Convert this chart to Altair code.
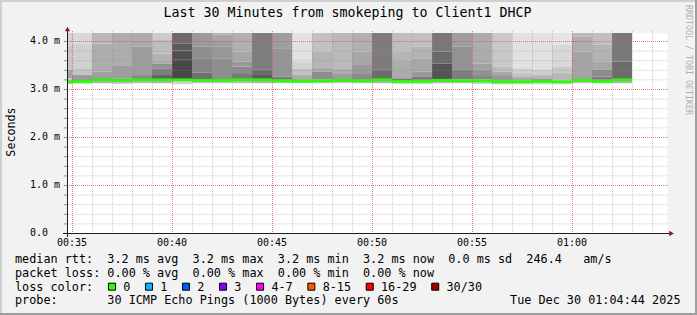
import altair as alt
import pandas as pd

MONO = "DejaVu Sans Mono"
DAY = "2025-12-30"
NB = "\u00a0"

# ---------------- data ----------------
title_text = "Last 30 Minutes from smokeping to Client1 DHCP"
y_title = "Seconds"
x_label_times = ["00:35", "00:40", "00:45", "00:50", "00:55", "01:00"]
y_ticks = [0, 1, 2, 3, 4]  # milliseconds

# start minute of each 60 s smoke column
minutes = ["00:34", "00:35", "00:36", "00:37", "00:38", "00:39", "00:40", "00:41",
           "00:42", "00:43", "00:44", "00:45", "00:46", "00:47", "00:48", "00:49",
           "00:50", "00:51", "00:52", "00:53", "00:54", "00:55", "00:56", "00:57",
           "00:58", "00:59", "01:00", "01:01", "01:02"]

# smoke band edges (ms, top -> bottom) and grey level of each band
smoke_edges = [
    [4.3, 3.90, 3.40, 3.22, 3.10],
    [4.3, 3.95, 3.43, 3.29, 3.15, 3.11],
    [4.3, 3.95, 3.36, 3.22, 3.19, 3.12],
    [4.3, 3.48, 3.22, 3.15, 3.11],
    [4.3, 3.88, 3.29, 3.20, 3.12],
    [4.3, 4.02, 3.74, 3.60, 3.53, 3.43, 3.29, 3.20, 3.12],
    [4.3, 3.95, 3.80, 3.62, 3.20, 3.10],
    [4.3, 3.88, 3.64, 3.34, 3.20, 3.12],
    [4.3, 4.13, 4.02, 3.88, 3.64, 3.20, 3.12],
    [4.3, 3.78, 3.57, 3.47, 3.33, 3.20, 3.12],
    [4.3, 3.40, 3.31, 3.20, 3.12],
    [4.3, 3.85, 3.26, 3.19, 3.12],
    [4.3, 3.57, 3.43, 3.29, 3.18, 3.12],
    [4.3, 3.78, 3.44, 3.36, 3.20, 3.12],
    [4.3, 3.43, 3.33, 3.20, 3.12],
    [4.3, 3.78, 3.50, 3.33, 3.19, 3.12],
    [4.3, 3.40, 3.19, 3.12],
    [4.3, 3.78, 3.60, 3.22, 3.18, 3.11],
    [4.3, 3.88, 3.64, 3.36, 3.26, 3.19, 3.11],
    [4.3, 3.78, 3.53, 3.20, 3.12],
    [4.3, 3.88, 3.40, 3.20, 3.12],
    [4.3, 3.53, 3.40, 3.29, 3.20, 3.11],
    [4.3, 3.47, 3.36, 3.29, 3.17, 3.10],
    [4.3, 3.43, 3.33, 3.26, 3.17, 3.10],
    [4.3, 3.40, 3.29, 3.20, 3.18, 3.10],
    [4.3, 3.92, 3.47, 3.33, 3.19, 3.10],
    [4.3, 4.09, 3.78, 3.20, 3.12],
    [4.3, 3.92, 3.57, 3.40, 3.26, 3.19, 3.12],
    [4.3, 3.57, 3.20, 3.12],
]
smoke_shades = [
    [212, 200, 165, 200],
    [216, 208, 196, 154, 200],
    [185, 173, 160, 85, 176],
    [173, 158, 140, 190],
    [172, 157, 136, 185],
    [203, 189, 178, 169, 144, 125, 96, 180],
    [106, 92, 79, 72, 210],
    [154, 143, 132, 112, 190],
    [178, 167, 158, 152, 142, 190],
    [176, 167, 153, 138, 119, 190],
    [125, 108, 91, 180],
    [158, 149, 122, 190],
    [226, 210, 194, 170, 215],
    [194, 181, 169, 142, 195],
    [186, 173, 156, 195],
    [176, 167, 154, 139, 195],
    [124, 108, 180],
    [190, 181, 172, 110, 195],
    [192, 180, 168, 153, 119, 195],
    [120, 106, 84, 180],
    [159, 147, 125, 190],
    [172, 160, 147, 136, 195],
    [201, 188, 169, 153, 205],
    [226, 208, 195, 170, 215],
    [226, 207, 181, 100, 210],
    [229, 216, 201, 182, 215],
    [187, 174, 164, 190],
    [191, 179, 167, 140, 123, 190],
    [121, 108, 180],
]
medians = [3.15, 3.16, 3.19, 3.18, 3.19, 3.19, 3.19, 3.18, 3.18, 3.19,
           3.19, 3.17, 3.16, 3.17, 3.18, 3.17, 3.19, 3.16, 3.16, 3.18,
           3.17, 3.17, 3.15, 3.15, 3.16, 3.15, 3.18, 3.16, 3.19]

legend_lines = [
    "median rtt:  3.2 ms avg  3.2 ms max  3.2 ms min  3.2 ms now  0.0 ms sd  246.4   am/s",
    "packet loss: 0.00 % avg  0.00 % max  0.00 % min  0.00 % now",
    "loss color:",
    "probe:       30 ICMP Echo Pings (1000 Bytes) every 60s",
]
date_text = "Tue Dec 30 01:04:44 2025"
watermark = "RRDTOOL / TOBI OETIKER"
loss_labels = ["0", "1", "2", "3", "4-7", "8-15", "16-29", "30/30"]
loss_colors = ["#26ff00", "#00b8ff", "#0059ff", "#7e00ff", "#ff00ff",
               "#ff5500", "#ff0000", "#a10000"]

# ---------------- tables ----------------
def ts(hm):
    return pd.Timestamp(f"{DAY} {hm}")

rows = []
for m, edges, shades in zip(minutes, smoke_edges, smoke_shades):
    s = ts(m)
    e = s + pd.Timedelta(minutes=1)
    for hi, lo, g in zip(edges[:-1], edges[1:], shades):
        rows.append({"start": s.isoformat(), "end": e.isoformat(), "hi": hi, "lo": lo, "shade": g})
smoke = pd.DataFrame(rows)

med = pd.DataFrame({
    "start": [ts(m).isoformat() for m in minutes],
    "end": [(ts(m) + pd.Timedelta(minutes=1)).isoformat() for m in minutes],
    "median": medians,
})

grid_times = pd.date_range(ts("00:35"), ts("01:04"), freq="1min")
minor_x = pd.DataFrame({"t": [t.isoformat() for t in grid_times if t.minute % 5 != 0]})
major_x = pd.DataFrame({"t": [t.isoformat() for t in grid_times if t.minute % 5 == 0]})
minor_y = pd.DataFrame({"v": [round(i * 0.2, 1) for i in range(1, 21) if i % 5 != 0]})
major_y = pd.DataFrame({"v": [v for v in y_ticks if v > 0]})
all_y = pd.DataFrame({"v": [round(i * 0.2, 1) for i in range(1, 21)]})

x_labels = pd.DataFrame({"t": [ts(t).isoformat() for t in x_label_times],
                         "lab": x_label_times})
y_labels = pd.DataFrame({
    "v": y_ticks,
    "lab": [("0.0" if v == 0 else f"{v:.1f} m").replace(" ", NB) for v in y_ticks],
})

def dt(hm, sec=0):
    h, mi = map(int, hm.split(":"))
    return alt.DateTime(year=2025, month=12, date=30, hours=h, minutes=mi, seconds=sec)

xscale = alt.Scale(domain=[dt("00:34", 45), dt("01:04", 45)], nice=False)
yscale = alt.Scale(domain=[0, 25 / 6], nice=False, zero=True)

smoke_layer = alt.Chart(smoke).mark_rect(clip=True).encode(
    x=alt.X("start:T", scale=xscale, axis=None),
    x2="end:T",
    y=alt.Y("hi:Q", scale=yscale, axis=None),
    y2="lo:Q",
    color=alt.Color("shade:Q", scale=alt.Scale(domain=[0, 255], range=["#000000", "#ffffff"],
                                               interpolate="rgb"), legend=None),
)

median_layer = alt.Chart(med).mark_rule(color="#26ff00", strokeWidth=3, clip=True).encode(
    x=alt.X("start:T", scale=xscale, axis=None),
    x2="end:T",
    y=alt.Y("median:Q", scale=yscale, axis=None),
)

def vgrid(df, color, op):
    return alt.Chart(df).mark_rule(color=color, opacity=op, strokeWidth=1,
                                   strokeDash=[1, 1], xOffset=0.5).encode(
        x=alt.X("t:T", scale=xscale, axis=None), y=alt.value(-2), y2=alt.value(202))

def hgrid(df, color, op):
    return alt.Chart(df).mark_rule(color=color, opacity=op, strokeWidth=1,
                                   strokeDash=[1, 1], yOffset=0.5).encode(
        y=alt.Y("v:Q", scale=yscale, axis=None), x=alt.value(0), x2=alt.value(602))

y_ticks_marks = alt.Chart(all_y).mark_rule(color="#8f8f8f", strokeWidth=1, yOffset=0.5).encode(
    y=alt.Y("v:Q", scale=yscale, axis=None), x=alt.value(-3), x2=alt.value(0))

x_tick_text = alt.Chart(x_labels).mark_text(
    font=MONO, fontSize=10, color="#000000", align="center", baseline="middle").encode(
    x=alt.X("t:T", scale=xscale, axis=None), y=alt.value(209.7), text="lab:N")
y_tick_text = alt.Chart(y_labels).mark_text(
    font=MONO, fontSize=10, color="#000000", align="left", baseline="middle").encode(
    y=alt.Y("v:Q", scale=yscale, axis=None), x=alt.value(-37), text="lab:N")

one = pd.DataFrame({"k": [0]})

x_axis_line = alt.Chart(one).mark_rule(color="#1f1f1f", strokeWidth=1).encode(
    x=alt.value(-4), x2=alt.value(603), y=alt.value(200.5))
y_axis_line = alt.Chart(one).mark_rule(color="#1f1f1f", strokeWidth=1).encode(
    x=alt.value(0.5), y=alt.value(204), y2=alt.value(-2))
x_arrow = alt.Chart(one).mark_point(shape="triangle-right", filled=True, size=28,
                                    color="#801f1f", opacity=1).encode(
    x=alt.value(604.5), y=alt.value(200.5))
y_arrow = alt.Chart(one).mark_point(shape="triangle-up", filled=True, size=28,
                                    color="#801f1f", opacity=1).encode(
    x=alt.value(0.5), y=alt.value(-4))

def text(s, x, y, size=11.8, align="left", angle=0, color="#000000"):
    return alt.Chart(pd.DataFrame({"t": [s.replace(" ", NB)]})).mark_text(
        align=align, baseline="middle", font=MONO, fontSize=size, color=color,
        angle=angle).encode(text="t:N", x=alt.value(x), y=alt.value(y))

texts = [
    text(title_text, 280.5, -20.5, size=13.3, align="center"),
    text(y_title, -56, 99, size=11.7, align="center", angle=270),
    text(watermark, 620.5, 27, size=8.3, align="center", angle=90, color="#b0b0b0"),
    text(date_text, 613.5, 267, align="right"),
]
for i, line in enumerate(legend_lines):
    texts.append(text(line, -52, [226, 239.5, 253.5, 267][i]))

# loss-colour legend boxes, advancing by label width
box_layers = []
left = 41.0
for lab, col in zip(loss_labels, loss_colors):
    box_layers.append(
        alt.Chart(one).mark_square(size=49, filled=True, fill=col, stroke="#000000",
                                   strokeWidth=1, opacity=1).encode(
            x=alt.value(left + 4), y=alt.value(253.7)))
    box_layers.append(text(lab, left + 15.3, 253.5))
    left += 29.9 + 7.12 * len(lab)

# border shading
border = [
    alt.Chart(one).mark_rule(color="#cfcfcf", strokeWidth=2).encode(
        x=alt.value(-67), x2=alt.value(630), y=alt.value(-32)),
    alt.Chart(one).mark_rule(color="#cfcfcf", strokeWidth=2).encode(
        x=alt.value(-66), y=alt.value(-33), y2=alt.value(282)),
    alt.Chart(one).mark_rule(color="#9e9e9e", strokeWidth=2).encode(
        x=alt.value(-67), x2=alt.value(630), y=alt.value(281)),
    alt.Chart(one).mark_rule(color="#9e9e9e", strokeWidth=2).encode(
        x=alt.value(629), y=alt.value(-33), y2=alt.value(282)),
]

chart = alt.layer(
    smoke_layer,
    median_layer,
    vgrid(minor_x, "#8f8f8f", 0.45),
    vgrid(major_x, "#de4f4f", 0.75),
    hgrid(minor_y, "#8f8f8f", 0.45),
    hgrid(major_y, "#de4f4f", 0.75),
    y_ticks_marks,
    x_axis_line, y_axis_line, x_arrow, y_arrow,
    x_tick_text, y_tick_text,
    *texts, *box_layers, *border,
).properties(
    width=600, height=200,
    padding={"left": 67, "top": 33, "right": 30, "bottom": 82},
    autosize=alt.AutoSizeParams(type="none"),
    background="#f2f2f2",
).configure_view(fill="#ffffff", stroke="transparent")

chart.save("out.html", embed_options={"renderer": "svg", "actions": False})
